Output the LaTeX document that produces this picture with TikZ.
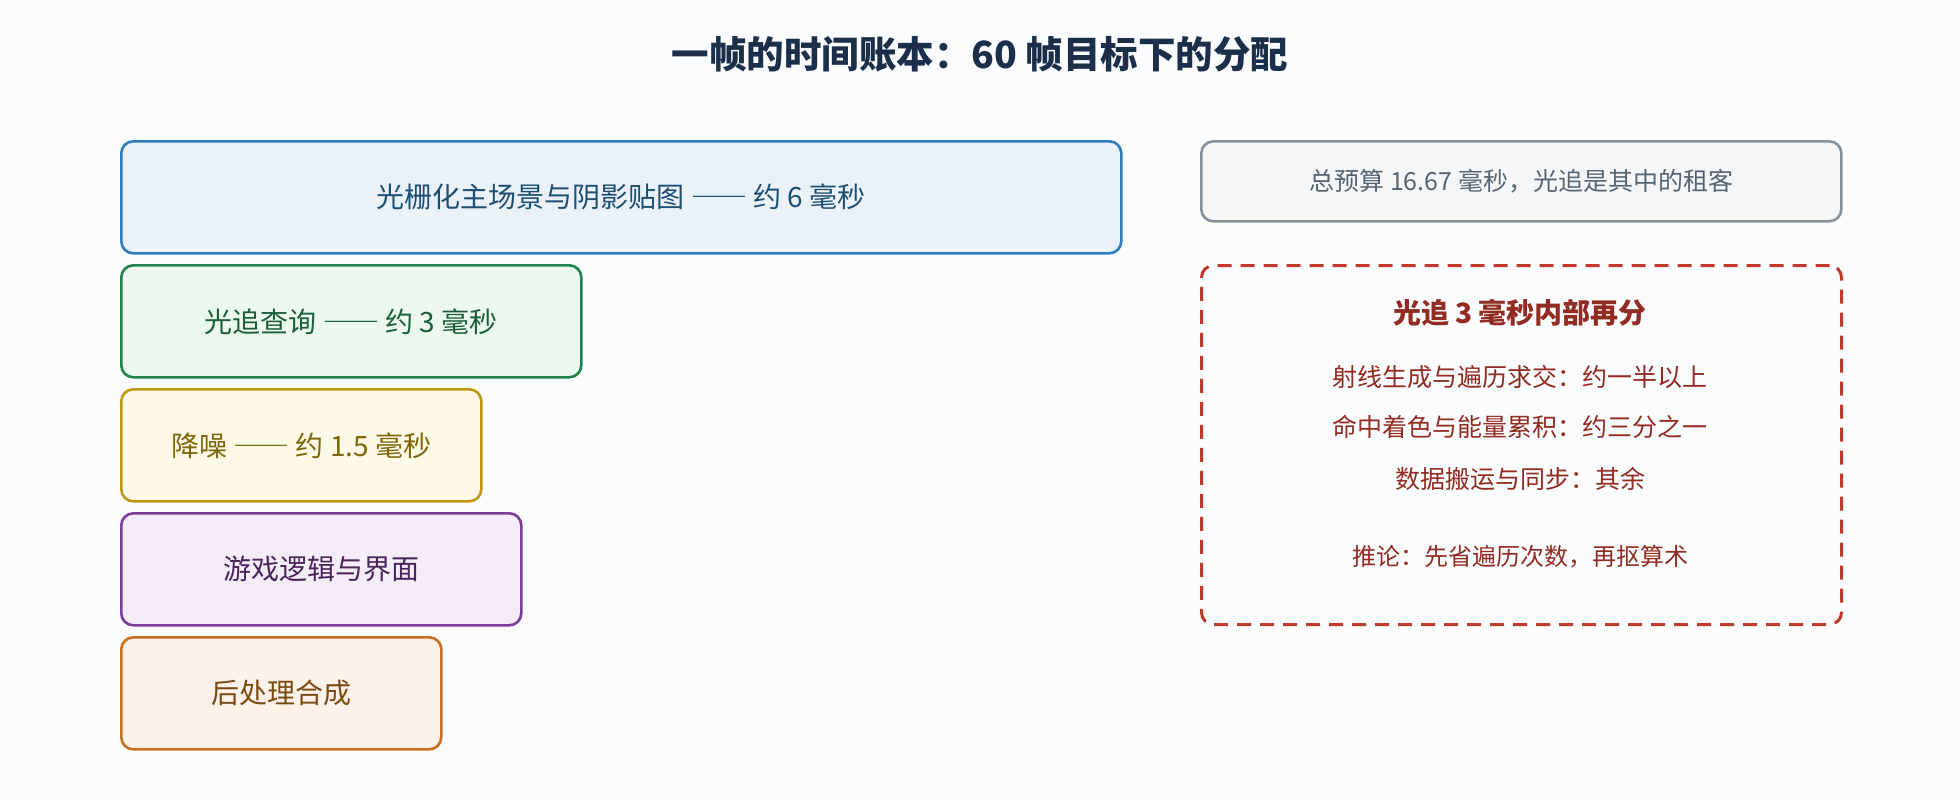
\documentclass[tikz,border=0pt]{standalone}
\usepackage{fontspec}
\setmainfont{Noto Sans CJK SC}
\usetikzlibrary{positioning}

\newcommand\longdash{{\addfontfeature{RawFeature=+fwid}——}}

\definecolor{pagebg}{HTML}{FBFCFE}
\definecolor{titleink}{HTML}{1B2F4B}
\definecolor{rasterline}{HTML}{2E7DC0}
\definecolor{rasterfill}{HTML}{EAF1F8}
\definecolor{rasterink}{HTML}{1D4F72}
\definecolor{rtline}{HTML}{1E8449}
\definecolor{rtfill}{HTML}{EAF8EE}
\definecolor{rtink}{HTML}{1D5E3A}
\definecolor{denoiseline}{HTML}{BF980F}
\definecolor{denoisefill}{HTML}{FEF8E6}
\definecolor{denoiseink}{HTML}{7D6608}
\definecolor{logicline}{HTML}{7D3C98}
\definecolor{logicfill}{HTML}{F4EDF8}
\definecolor{logicink}{HTML}{4A235A}
\definecolor{postline}{HTML}{CA6F1E}
\definecolor{postfill}{HTML}{FCF2E9}
\definecolor{postink}{HTML}{7A4A10}
\definecolor{budgetline}{HTML}{85929E}
\definecolor{budgetfill}{HTML}{F4F6F8}
\definecolor{budgetink}{HTML}{566573}
\definecolor{splitline}{HTML}{C0392B}
\definecolor{splitink}{HTML}{922B21}

\begin{document}
\begin{tikzpicture}[x=0.5pt,y=-0.5pt,
    bar/.style={draw, rounded corners=6pt, line width=1.3pt, minimum height=56pt,
      anchor=north west, inner sep=0pt, font=\fontsize{14}{16}\selectfont},
    note/.style={font=\fontsize{12.5}{15}\selectfont, text=splitink}]
    \fill[pagebg] (0,0) rectangle (1960,800);
    \useasboundingbox (0,0) rectangle (1960,800);

    \node[font=\bfseries\fontsize{18.75}{22}\selectfont, text=titleink] (title) at (980,54)
        {一帧的时间账本：60 帧目标下的分配};

    % left column: the frame budget, one bar per stage
    \node[bar, draw=rasterline, fill=rasterfill, text=rasterink, minimum width=500pt] (raster) at (120,140)
        {光栅化主场景与阴影贴图 \longdash{} 约 6 毫秒};
    \node[bar, draw=rtline, fill=rtfill, text=rtink, minimum width=230pt] (rtquery) at (120,264)
        {光追查询 \longdash{} 约 3 毫秒};
    \node[bar, draw=denoiseline, fill=denoisefill, text=denoiseink, minimum width=180pt] (denoise) at (120,388)
        {降噪 \longdash{} 约 1.5 毫秒};
    \node[bar, draw=logicline, fill=logicfill, text=logicink, minimum width=200pt] (logic) at (120,512)
        {游戏逻辑与界面};
    \node[bar, draw=postline, fill=postfill, text=postink, minimum width=160pt] (post) at (120,636)
        {后处理合成};

    % right column
    \node[bar, draw=budgetline, fill=budgetfill, text=budgetink, minimum width=320pt, minimum height=40pt,
        font=\fontsize{12.5}{15}\selectfont] (budget) at (1200,140)
        {总预算 16.67 毫秒，光追是其中的租客};
    \node[bar, draw=splitline, line width=1.5pt, dash pattern=on 7pt off 4.5pt,
        minimum width=320pt, minimum height=179.5pt] (split) at (1200,264) {};

    \node[note, font=\bfseries\fontsize{14}{16}\selectfont] (splithead) at (1520,313) {光追 3 毫秒内部再分};
    \node[note] (traverse) at (1520,377) {射线生成与遍历求交：约一半以上};
    \node[note] (shade) at (1520,427) {命中着色与能量累积：约三分之一};
    \node[note] (movedata) at (1520,479) {数据搬运与同步：其余};
    \node[note, font=\fontsize{12}{14}\selectfont] (verdict) at (1520,557) {推论：先省遍历次数，再抠算术};
\end{tikzpicture}
\end{document}
